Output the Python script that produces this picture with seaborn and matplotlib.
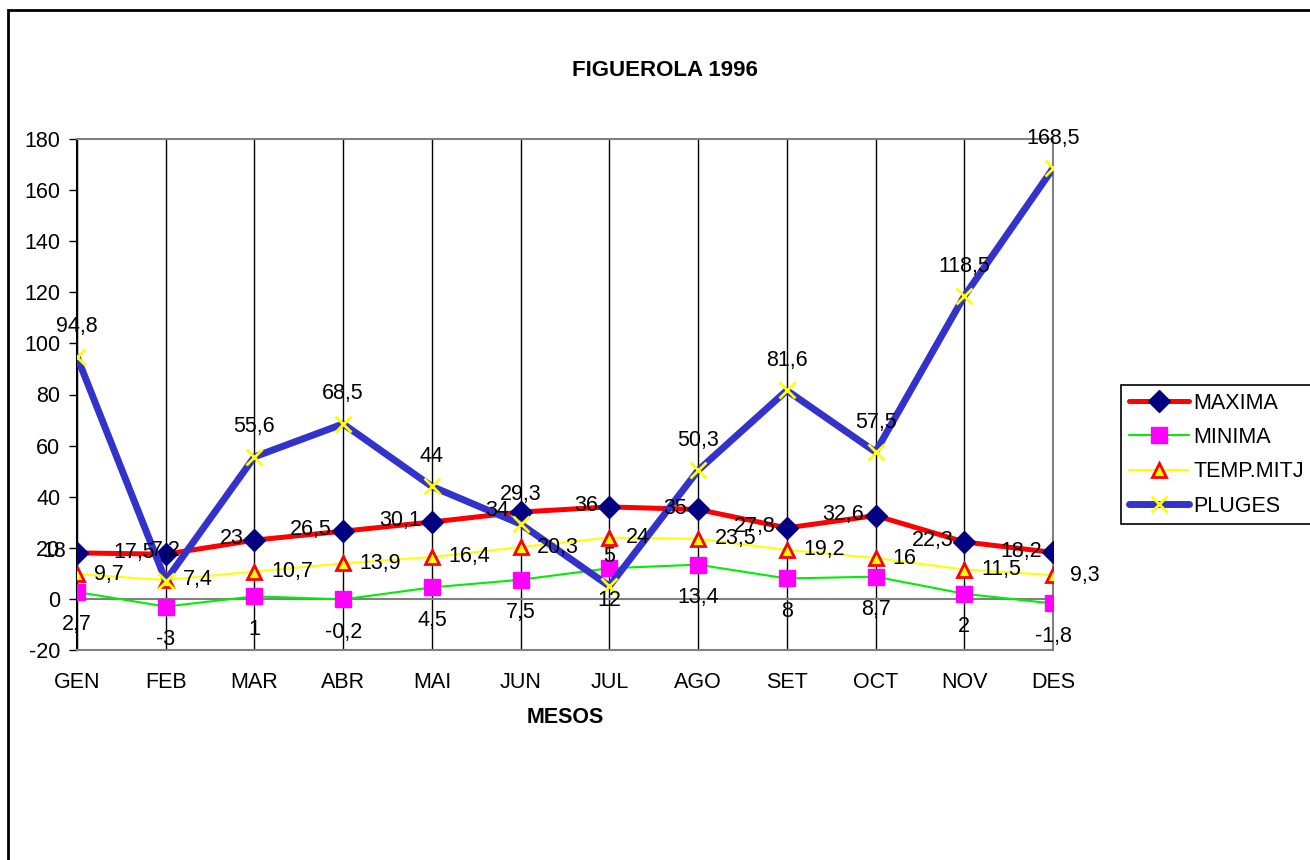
import pandas as pd
import matplotlib
matplotlib.use('Agg')
import matplotlib.pyplot as plt
import seaborn as sns
from matplotlib.patches import Rectangle

# data
meses = ['GEN', 'FEB', 'MAR', 'ABR', 'MAI', 'JUN', 'JUL', 'AGO', 'SET', 'OCT', 'NOV', 'DES']
maxima = [18, 17.5, 23, 26.5, 30.1, 34, 36, 35, 27.8, 32.6, 22.3, 18.2]
minima = [2.7, -3, 1, -0.2, 4.5, 7.5, 12, 13.4, 8, 8.7, 2, -1.8]
temp_mitj = [9.7, 7.4, 10.7, 13.9, 16.4, 20.3, 24, 23.5, 19.2, 16, 11.5, 9.3]
pluges = [94.8, 7.2, 55.6, 68.5, 44, 29.3, 5, 50.3, 81.6, 57.5, 118.5, 168.5]
y_ticks = [-20, 0, 20, 40, 60, 80, 100, 120, 140, 160, 180]

df = pd.DataFrame({'pos': range(len(meses)), 'MAXIMA': maxima, 'MINIMA': minima,
                   'TEMP.MITJ': temp_mitj, 'PLUGES': pluges})

sns.set_style('white')
plt.rcParams['font.family'] = ['Liberation Sans', 'DejaVu Sans']
plt.rcParams['axes.unicode_minus'] = False
plt.rcParams['text.color'] = 'black'
plt.rcParams['axes.labelcolor'] = 'black'
plt.rcParams['xtick.color'] = 'black'
plt.rcParams['ytick.color'] = 'black'

FS = 15.5

fig = plt.figure(figsize=(13.1, 8.6), dpi=100)
ax = fig.add_axes([77 / 1310, 1 - 650 / 860, (1053 - 77) / 1310, (650 - 139) / 860])

# style per series
styles = {
    'MAXIMA': dict(color='#FF0000', lw=3.6, marker='D', mfc='#000080', mec='#000080', ms=11),
    'MINIMA': dict(color='#00EE00', lw=1.5, marker='s', mfc='#FF00FF', mec='#FF00FF', ms=11),
    'TEMP.MITJ': dict(color='#FFFF00', lw=1.5, marker='^', mfc='#FFFF00', mec='#FF0000', ms=10),
    'PLUGES': dict(color='#3333CC', lw=5, marker='x', mfc='#FFFF00', mec='#FFFF00', ms=12),
}
label_pos = {
    'MAXIMA': dict(xytext=(-8, 1), ha='right', va='center'),
    'MINIMA': dict(xytext=(0, -16), ha='center', va='top'),
    'TEMP.MITJ': dict(xytext=(12, 0), ha='left', va='center'),
    'PLUGES': dict(xytext=(0, 14), ha='center', va='bottom'),
}

for name, st in styles.items():
    sns.lineplot(data=df, x='pos', y=name, ax=ax, color=st['color'], linewidth=st['lw'],
                 marker=st['marker'], markerfacecolor=st['mfc'], markeredgecolor=st['mec'],
                 markersize=st['ms'], markeredgewidth=2 if st['marker'] in ('^', 'x') else 1,
                 label=name, zorder=3)
    for i, v in enumerate(df[name]):
        txt = ('%g' % v).replace('.', ',')
        ax.annotate(txt, (i, v), textcoords='offset points', fontsize=FS, zorder=5,
                    annotation_clip=False, **label_pos[name])

ax.set_xlim(0, len(meses) - 1)
ax.set_ylim(-20, 180)
ax.set_yticks(y_ticks)
ax.set_xticks(range(len(meses)))
ax.set_xticklabels(meses, fontsize=FS)
ax.tick_params(axis='y', labelsize=FS, direction='out', length=6, width=1, left=True, pad=6)
ax.tick_params(axis='x', length=0, pad=16)

# vertical grid lines at each month, zero line
for i in range(len(meses) - 1):
    ax.axvline(i, color='black', lw=1, zorder=1)
ax.axhline(0, color='#808080', lw=1.5, zorder=1)
for s in ['top', 'right', 'bottom']:
    ax.spines[s].set_color('#808080')
    ax.spines[s].set_linewidth(1.5)
ax.spines['left'].set_color('black')
ax.spines['left'].set_linewidth(1.5)

ax.set_xlabel('MESOS', fontsize=FS, fontweight='bold', labelpad=10)
ax.set_ylabel('')
ax.get_legend().remove()

fig.text(665 / 1310, 1 - 70 / 860, 'FIGUEROLA 1996', ha='center', va='center',
         fontsize=16, fontweight='bold')

handles, labels = ax.get_legend_handles_labels()
leg = fig.legend(handles, labels, loc='upper left', bbox_to_anchor=(1121 / 1310, 1 - 385 / 860),
                 fontsize=FS, frameon=True, fancybox=False, framealpha=1, edgecolor='black',
                 handlelength=2.8, borderpad=0.35, labelspacing=0.62, handletextpad=0.2,
                 borderaxespad=0)
leg.get_frame().set_linewidth(1.2)

# chart border
fig.patches.append(Rectangle((7.5 / 1310, -0.05), 1.1, 1 - 10.5 / 860 + 0.05, transform=fig.transFigure,
                             fill=False, edgecolor='black', linewidth=2))

fig.savefig('out.png', dpi=100, facecolor='white')
